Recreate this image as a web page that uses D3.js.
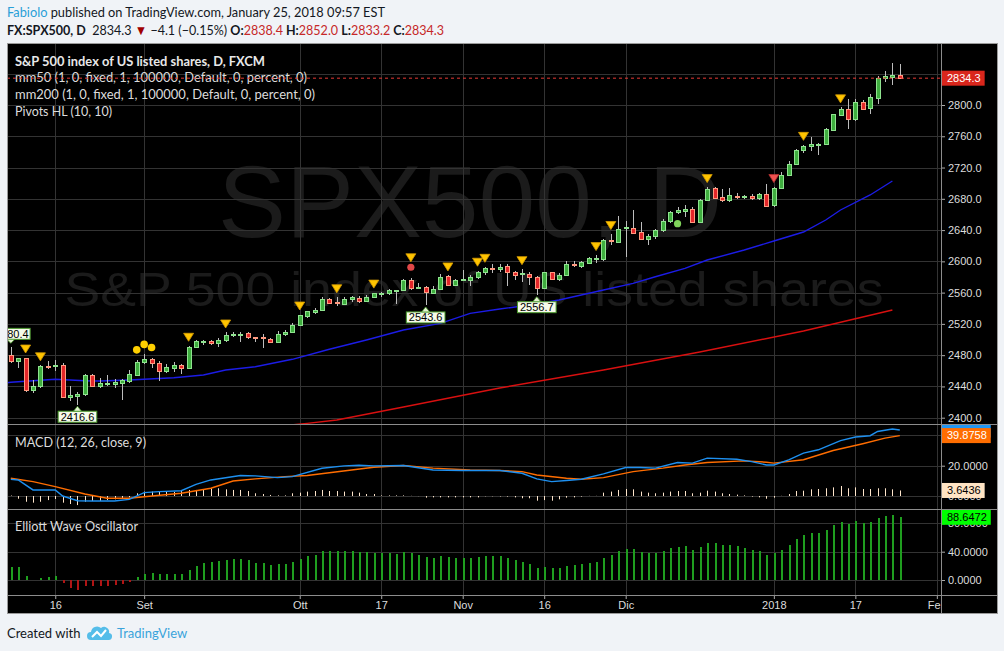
<!DOCTYPE html>
<html><head><meta charset="utf-8">
<script src="https://cdn.jsdelivr.net/npm/d3@7"></script>
<style>html,body{margin:0;padding:0;background:#f0f3f7;}svg{display:block;}</style>
</head><body>
<svg id="c" width="1004" height="651"></svg>
<script>
// ---------------- DATA ----------------
const dates = [
"2017-08-08","2017-08-09","2017-08-10","2017-08-11","2017-08-14","2017-08-15","2017-08-16","2017-08-17","2017-08-18","2017-08-21",
"2017-08-22","2017-08-23","2017-08-24","2017-08-25","2017-08-28","2017-08-29","2017-08-30","2017-08-31","2017-09-01","2017-09-04",
"2017-09-05","2017-09-06","2017-09-07","2017-09-08","2017-09-11","2017-09-12","2017-09-13","2017-09-14","2017-09-15","2017-09-18",
"2017-09-19","2017-09-20","2017-09-21","2017-09-22","2017-09-25","2017-09-26","2017-09-27","2017-09-28","2017-09-29","2017-10-02",
"2017-10-03","2017-10-04","2017-10-05","2017-10-06","2017-10-09","2017-10-10","2017-10-11","2017-10-12","2017-10-13","2017-10-16",
"2017-10-17","2017-10-18","2017-10-19","2017-10-20","2017-10-23","2017-10-24","2017-10-25","2017-10-26","2017-10-27","2017-10-30",
"2017-10-31","2017-11-01","2017-11-02","2017-11-03","2017-11-06","2017-11-07","2017-11-08","2017-11-09","2017-11-10","2017-11-13",
"2017-11-14","2017-11-15","2017-11-16","2017-11-17","2017-11-20","2017-11-21","2017-11-22","2017-11-23","2017-11-24","2017-11-27",
"2017-11-28","2017-11-29","2017-11-30","2017-12-01","2017-12-04","2017-12-05","2017-12-06","2017-12-07","2017-12-08","2017-12-11",
"2017-12-12","2017-12-13","2017-12-14","2017-12-15","2017-12-18","2017-12-19","2017-12-20","2017-12-21","2017-12-22","2017-12-26",
"2017-12-27","2017-12-28","2017-12-29","2018-01-02","2018-01-03","2018-01-04","2018-01-05","2018-01-08","2018-01-09","2018-01-10",
"2018-01-11","2018-01-12","2018-01-15","2018-01-16","2018-01-17","2018-01-18","2018-01-19","2018-01-22","2018-01-23","2018-01-24",
"2018-01-25"];
const open = [
2480,2473,2476,2435,2441,2466,2466,2467.5,2427,2428,
2430,2454,2441,2444,2443,2445,2447,2455,2471,2475,
2470,2460,2464,2467,2463,2490,2497,2498,2496,2499,
2506,2506,2508,2503,2503,2501,2497,2507,2509,2519,
2530,2535,2538,2552,2548,2546,2552,2553,2549,2555,
2558,2559,2562,2563,2576,2566,2567,2560,2565,2581,
2570,2576,2576,2580,2586,2592,2590,2594,2586,2584,
2584,2580,2566,2586,2577,2582,2597,2594,2598,2603,
2603,2627,2625,2643,2643,2637,2628,2632,2640,2651,
2663,2665,2667,2650,2679,2694,2682,2678,2684,2683,
2683,2681,2686,2672,2694,2711,2724,2742,2747,2749,
2750,2768,2787,2795,2782,2804,2796,2809,2834,2836,
2838.4];
const high = [
2490,2477,2477,2448,2467,2473,2474,2470,2440,2433,
2456,2456,2451,2455,2450,2449,2461,2474,2481,2477,
2472,2469,2471,2469,2492,2500,2500,2500,2502,2509,
2509,2510,2510,2503,2507,2502,2511,2512,2521,2532,
2537,2540,2554,2553,2554,2555,2556,2556,2557,2560,
2561,2564,2563,2578,2579,2572,2569,2568,2584,2582,
2578,2589,2582,2588,2593,2597,2596,2597,2588,2590,
2586,2581,2587,2587,2585,2600,2600,2600,2605,2608,
2629,2635,2658,2651,2666,2650,2635,2642,2654,2665,
2670,2672,2670,2680,2695,2695,2693,2694,2687,2685,
2686,2688,2699,2695,2714,2729,2744,2749,2759,2751,
2771,2789,2797,2808,2808,2807,2814,2837,2843,2854,
2852.0];
const low = [
2470,2463,2433,2432,2438,2462,2460,2425,2421,2416.6,
2428,2439,2438,2440,2438,2423,2445,2453,2469,2463,
2447,2457,2458,2456,2462,2489,2493,2493,2490,2497,
2503,2497,2501,2497,2489,2496,2496,2504,2508,2518,
2528,2533,2537,2546,2543,2545,2548,2547,2548,2553,
2555,2557,2545,2562,2563,2564,2543.6,2558,2563,2570,
2569,2575,2568,2578,2582,2585,2587,2568,2576,2574,
2570,2556.7,2565,2576,2575,2581,2593,2592,2597,2598,
2600,2621,2623,2606,2635,2627,2621,2628,2638,2649,
2661,2657,2649,2649,2678,2680,2676,2676,2680,2680,
2678,2679,2670,2670,2693,2710,2723,2738,2741,2736,
2749,2767,2786,2769,2780,2793,2789,2801,2829,2825,
2833.2];
const close = [
2473,2476,2435,2441,2466,2465,2468,2427,2429,2430,
2454,2441,2444,2445,2446,2448,2456,2471,2475,2470,
2460,2465,2467,2463,2491,2498,2498,2496,2499,2506,
2507,2507,2503,2502,2502,2497,2507,2510,2519,2531,
2536,2538,2552,2547,2547,2552,2555,2549,2555,2559,
2559,2563,2563,2576,2566,2567,2561,2565,2580,2570,
2576,2577,2580,2586,2592,2590,2593,2586,2583,2585,
2580,2566,2586,2577,2583,2597,2595,2599,2604,2604,
2627,2626,2642,2644,2636,2628,2632,2640,2652,2663,
2666,2667,2650,2679,2693,2681,2678,2685,2683,2684,
2681,2686,2671,2694,2711,2725,2743,2748,2750,2750,
2769,2788,2795,2782,2804,2795,2810,2835,2837,2839,
2834.3];

// moving averages read at sampled bars (bar index, value)
const mm50Idx = [-1,0,3,6,10,12,16,18,22,26,29,33,38,43,48,53,58,62,66,70,74,80,84,87,91,94,99,103,107,110,112,116,119];
const mm50Val = [2444,2445.3,2447.3,2449.1,2447.3,2446.9,2448.2,2449.1,2451.1,2454.6,2461,2465.2,2474.7,2487.5,2499.4,2512.2,2520.7,2533.5,2539,2544.1,2550.5,2563.3,2571.9,2580.3,2591.1,2601.7,2614.5,2626,2637.5,2652.9,2665.7,2684.9,2702.8];
const mm200Idx = [36,40,44,53,66,80,93,107,119];
const mm200Val = [2389,2392.8,2397,2413.7,2438,2461,2484,2510.9,2537.7];

// MACD (12,26,close,9)
const macdIdx = [0,1,3,6,7,9,11,14,16,18,20,23,25,27,31,33,36,38,42,45,47,49,53,57,61,63,66,69,71,73,75,77,80,83,85,87,90,92,94,98,100,102,103,105,107,109,112,114,116,117,119,120];
const macdVal = [11,10.6,4,4,0,-3.1,-3.3,-3.3,-2.2,2.2,2.9,3.5,7.7,10.6,13.5,13.3,12.1,12.8,18.3,19.9,20.3,19.9,20.1,17.2,16.8,16.8,16.8,15,11.3,9.5,10.2,11.1,14.6,18.8,18.8,18.4,22.1,21.7,25,24.3,22.7,20.5,20.5,23.9,28.3,30.5,36.6,38.9,39.8,42.6,44.2,43.5194];
const signalIdx = [0,3,6,10,13,16,18,23,27,30,33,37,40,46,49,53,57,62,66,69,71,75,77,80,84,88,91,94,99,102,103,107,111,115,118,120];
const signalVal = [11.7,9.5,6.2,1.3,-1.5,-1.5,-0.5,1.8,5.1,9.9,11.3,12.8,13.5,17.2,19,20.1,18.4,17.2,16.8,16.1,13.9,11.7,11.1,12.1,16.1,18.4,20.5,22.1,23.2,22.3,21.7,23.9,30,34.5,38.2,39.8758];
const macdHist = [
0.3,-1.8,-3.8,-4.4,-3.8,-2.7,-2,-4.4,-5.3,-6,
-3.8,-3.3,-3.3,-2.7,-2.2,-1.8,-0.9,1.8,2.9,2.9,
2.9,2.7,2.7,3.3,4,4,4.4,5.1,5.1,4.4,
4,4,3.3,1.8,1.3,0.7,0.4,0.4,1.8,2.2,
2.9,3.3,4,3.3,3.3,2.9,2.9,2.2,1.3,1.3,
0.4,0.4,0.4,0.4,0.1,-0.1,-1.1,-0.9,-0.9,-0.9,
-0.9,-0.9,-0.9,-0.9,-0.2,-0.2,-0.3,-0.4,-0.9,-1.5,
-1.5,-3.1,-2.7,-3.1,-2.2,-1.1,-0.9,-0.4,0.1,0.1,
2.2,2.9,4,4.6,4.4,2.9,2.2,1.8,2.2,2.9,
3.3,3.3,1.8,2.2,3.5,2.9,1.8,1.3,0.9,0.4,
-0.4,-0.9,-1.8,-1.1,0.1,1.3,3.3,3.5,4.4,4.6,
5.1,5.7,6.6,5.1,5.7,4.6,4.6,5.1,5.1,4.4,
3.6436];
// Elliott Wave Oscillator
const ewo = [
18.4,18.4,5.7,0.5,2.8,3.8,5.7,-4.7,-11.3,-14.6,
-8.5,-8.5,-8.5,-8.5,-7.1,-5.7,-3.3,3.8,8,9.4,
8,8,8,8,13.7,19.8,24,25.4,26.9,27.8,
29.2,29.2,27.8,24.5,23.6,21.2,22.1,22.1,25,29.7,
33.9,35.3,40.5,40.5,40.5,40.5,40.5,39.1,39.1,37.7,
37.7,37.7,36.3,39.1,37.7,34.9,32.5,30.6,33.5,32.5,
30.6,30.6,30.6,32.5,33.5,33.5,33.5,31.1,27.8,25,
22.1,16.5,18.4,16.5,16.5,19.8,21.2,22.1,23.6,25,
31.1,34.9,40.5,43.3,43.3,39.1,38.2,38.2,40.5,45.2,
46.6,47.6,41.9,46.6,51.8,51.8,49,49,47.6,44.8,
41.9,40.5,34.9,37.7,41.9,49,57.5,63.1,66,66,
70.2,77.3,81.5,78.7,82.9,80.1,81.5,87.2,90,91.4,
88.6472];

// axis ticks
const tickIdx = [6,18,39,50,61,72,83,103,114,125];
const tickLabels = ["16","Set","Ott","17","Nov","16","Dic","2018","17","Feb"];
const priceTicks = [2400,2440,2480,2520,2560,2600,2640,2680,2720,2760,2800];
const priceGrid = [2400,2440,2480,2520,2560,2600,2640,2680,2720,2760,2800,2840];
const macdTicks = [0,20,40];
const ewoTicks = [0,40,80];

// markers
const pivotHighIdx = [2,4,24,29,39,44,49,54,59,63,64,69,79,81,94,107,112];
const pivotHighRedIdx = [103];
const yellowDotIdx = [17,18,19];
const redDotIdx = [54];
const greenDotIdx = [90];
const labelIdx = [0,9,56,71];
const labelText = ["2480.4","2416.6","2543.6","2556.7"];
const labelSide = ["high","low","low","low"];

const lastPrice = 2834.3;
const lastMacd = 43.5194, lastSignal = 39.8758, lastHist = 3.6436, lastEwo = 88.6472;

const legendLines = ["S&P 500 index of US listed shares, D, FXCM","mm50 (1, 0, fixed, 1, 100000, Default, 0, percent, 0)","mm200 (1, 0, fixed, 1, 100000, Default, 0, percent, 0)","Pivots HL (10, 10)"];

// ---------------- LAYOUT ----------------
const W=1004,H=651;
const L=7,R=941,AR=998,T=43,PB=424,MB=509,EB=595,B=614;
const SANS='"Liberation Sans", Arial, sans-serif';
const HUM='Lato, "Open Sans", sans-serif';

const x = d3.scaleLinear().domain([0,120]).range([10.8,899.8]);
const yP = d3.scaleLinear().domain([2400,2800]).range([417.7,105]);
const yM = d3.scaleLinear().domain([0,20]).range([496,465.7]);
const yE = d3.scaleLinear().domain([0,40]).range([580,551.7]);

const svg = d3.select('#c');
svg.append('rect').attr('width',W).attr('height',H).attr('fill','#f0f3f7');
const defs = svg.append('defs');
function clip(id,x0,y0,w,h){defs.append('clipPath').attr('id',id).append('rect').attr('x',x0).attr('y',y0).attr('width',w).attr('height',h);}
clip('cp',L,T,R-L,PB-T); clip('cm',L,PB,R-L,MB-PB); clip('ce',L,MB,R-L,EB-MB);
clip('cma',R,PB,AR-R,MB-PB); clip('cea',R,MB,AR-R,EB-MB); clip('cpa',R,T,AR-R,PB-T); clip('cx',L,EB,R-L,B-EB);

// header
const h1 = svg.append('text').attr('x',7).attr('y',16.5).attr('font-family',HUM).attr('font-size',13.5).attr('fill','#131722')
  .attr('textLength',378).attr('lengthAdjust','spacingAndGlyphs').style('white-space','pre');
h1.append('tspan').attr('fill','#2a9fd8').text('Fabiolo');
h1.append('tspan').text(' published on TradingView.com, January 25, 2018 09:57 EST');
const h2 = svg.append('text').attr('x',7).attr('y',34.5).attr('font-family',HUM).attr('font-size',13.5).attr('fill','#131722')
  .attr('textLength',437).attr('lengthAdjust','spacingAndGlyphs').style('white-space','pre');
const RED='#c62828';
[["FX:SPX500, D",true,null],["  2834.3 ",false,null],["▼",false,'#a00000'],[" −4.1 (−0.15%) ",false,null],
 ["O:",true,null],["2838.4",false,RED],[" H:",true,null],["2852.0",false,RED],[" L:",true,null],["2833.2",false,RED],[" C:",true,null],["2834.3",false,RED]]
 .forEach(p=>{const t=h2.append('tspan').text(p[0]); if(p[1]) t.attr('font-weight','bold'); if(p[2]) t.attr('fill',p[2]);});

// chart background
svg.append('rect').attr('x',L).attr('y',T).attr('width',AR-L).attr('height',B-T).attr('fill','#000');

// watermark
const wm = svg.append('g').attr('clip-path','url(#cp)').attr('font-family',SANS).attr('fill','#1b1b1b').attr('text-anchor','middle');
wm.append('text').attr('x',470).attr('y',237).attr('font-size',102).attr('textLength',504).attr('lengthAdjust','spacingAndGlyphs').text('SPX500, D');
wm.append('text').attr('x',474).attr('y',306).attr('font-size',48).attr('textLength',819).attr('lengthAdjust','spacingAndGlyphs').text('S&P 500 index of US listed shares');

// grids
const GRID='#333';
const grid = svg.append('g').attr('stroke',GRID).attr('stroke-width',1).attr('shape-rendering','crispEdges');
priceGrid.forEach(v=>grid.append('line').attr('x1',L).attr('x2',R).attr('y1',Math.round(yP(v))+0.5).attr('y2',Math.round(yP(v))+0.5));
macdTicks.forEach(v=>grid.append('line').attr('x1',L).attr('x2',R).attr('y1',Math.round(yM(v))+0.5).attr('y2',Math.round(yM(v))+0.5));
ewoTicks.forEach(v=>grid.append('line').attr('x1',L).attr('x2',R).attr('y1',Math.round(yE(v))+0.5).attr('y2',Math.round(yE(v))+0.5));
tickIdx.forEach(i=>{const xx=Math.round(x(i))+0.5; if(xx<R) grid.append('line').attr('x1',xx).attr('x2',xx).attr('y1',T).attr('y2',EB);});

// legend
const lg = svg.append('g').attr('font-family',HUM).attr('font-size',12.5).attr('fill','#dcdcdc');
const lgLen=[250,292,300,97];
legendLines.forEach((s,k)=>{const t=lg.append('text').attr('x',15).attr('y',65.5+k*16.7).attr('textLength',lgLen[k]).attr('lengthAdjust','spacingAndGlyphs').text(s); if(k===0) t.attr('font-weight','bold').attr('fill','#e8e8e8');});
lg.append('text').attr('x',15).attr('y',447).attr('textLength',131).attr('lengthAdjust','spacingAndGlyphs').text('MACD (12, 26, close, 9)');
lg.append('text').attr('x',15).attr('y',531).attr('textLength',123).attr('lengthAdjust','spacingAndGlyphs').text('Elliott Wave Oscillator');

// price panel
const pp = svg.append('g').attr('clip-path','url(#cp)');
const lineP = d3.line().x(d=>x(d[0])).y(d=>yP(d[1]));
pp.append('path').datum(mm200Idx.map((i,k)=>[i,mm200Val[k]])).attr('d',lineP).attr('fill','none').attr('stroke','#d81010').attr('stroke-width',1.4);
pp.append('path').datum(mm50Idx.map((i,k)=>[i,mm50Val[k]])).attr('d',lineP).attr('fill','none').attr('stroke','#1c1ce6').attr('stroke-width',1.4);

const candles = pp.append('g').attr('shape-rendering','crispEdges');
open.forEach((o,i)=>{
  const c=close[i], up=c>=o, cx=Math.round(x(i));
  candles.append('line').attr('x1',cx+0.5).attr('x2',cx+0.5).attr('y1',yP(high[i])).attr('y2',yP(low[i])).attr('stroke','#bdbdbd');
  const y1=Math.round(yP(Math.max(o,c))), y2=Math.round(yP(Math.min(o,c)));
  candles.append('rect').attr('x',cx-1.5).attr('y',y1+0.5).attr('width',4).attr('height',Math.max(1,y2-y1))
    .attr('fill',up?'#3fae3f':'#e3262a').attr('stroke',up?'#8fe38f':'#ff9a80').attr('stroke-width',1);
});

// markers
const mk = pp.append('g');
function triDown(i,bottom,fill,stroke){const cx=x(i);mk.append('path').attr('d',`M${cx-5},${bottom-8}L${cx+5},${bottom-8}L${cx},${bottom}Z`).attr('fill',fill).attr('stroke',stroke).attr('stroke-width',0.8);}
pivotHighIdx.forEach(i=>{const off=redDotIdx.includes(i)?16:4.5; triDown(i,yP(high[i])-off,'#ffc400','#d49a00');});
pivotHighRedIdx.forEach(i=>triDown(i,yP(high[i])-4.5,'#ef5350','#b83232'));
yellowDotIdx.forEach(i=>mk.append('circle').attr('cx',x(i)).attr('cy',yP(high[i])-10).attr('r',3.8).attr('fill','#ffd000'));
redDotIdx.forEach(i=>mk.append('circle').attr('cx',x(i)).attr('cy',yP(high[i])-10.5).attr('r',3.6).attr('fill','#e04848'));
greenDotIdx.forEach(i=>mk.append('circle').attr('cx',x(i)).attr('cy',yP(low[i])+10).attr('r',3.6).attr('fill','#7fd35a'));

// pivot labels (a label that runs past the left edge keeps only its visible digits)
labelIdx.forEach((i,k)=>{
  const cx=x(i), g=mk.append('g');
  let s=labelText[k];
  const t=g.append('text').attr('font-family',SANS).attr('font-size',11).attr('fill','#000').text(s);
  const w=t.node().getComputedTextLength()+5, h=11;
  let bx=cx-w/2, bw=w;
  if(bx<L){ // trimmed by the pane edge
    const right=bx+w; bx=L; bw=right-L;
    while(s.length>1){t.text(s); if(t.node().getComputedTextLength()<=bw) break; s=s.slice(1);}
    t.text(s).attr('text-anchor','end').attr('x',right-1.5);
  } else { t.attr('text-anchor','middle').attr('x',cx); }
  let tip,top,edge;
  if(labelSide[k]==='low'){tip=yP(low[i])+1.5; top=tip+5; edge=top;}
  else {tip=yP(high[i])-4; top=tip-4-h; edge=top+h;}
  g.insert('rect','text').attr('x',bx).attr('y',top).attr('width',bw).attr('height',h).attr('fill','#f6fbea').attr('stroke','#4a9a2c').attr('stroke-width',1);
  g.insert('path','text').attr('d',`M${cx-4},${edge}L${cx+4},${edge}L${cx},${tip}Z`).attr('fill','#e4f3d2').attr('stroke','#4a9a2c').attr('stroke-width',0.8);
  t.attr('y',top+h/2+4);
});

// last price dashed line
svg.append('line').attr('x1',L).attr('x2',R).attr('y1',yP(lastPrice)).attr('y2',yP(lastPrice)).attr('stroke','#e53935').attr('stroke-dasharray','3,3');

// MACD panel
const mp = svg.append('g').attr('clip-path','url(#cm)');
macdHist.forEach((v,i)=>mp.append('line').attr('x1',Math.round(x(i))+0.5).attr('x2',Math.round(x(i))+0.5).attr('y1',yM(0)).attr('y2',yM(v)).attr('stroke','#ffe6cc').attr('stroke-width',1));
const lineM = d3.line().x(d=>x(d[0])).y(d=>yM(d[1]));
mp.append('path').datum(signalIdx.map((i,k)=>[i,signalVal[k]])).attr('d',lineM).attr('fill','none').attr('stroke','#ff6d00').attr('stroke-width',1.4);
mp.append('path').datum(macdIdx.map((i,k)=>[i,macdVal[k]])).attr('d',lineM).attr('fill','none').attr('stroke','#1e90f0').attr('stroke-width',1.4);

// EWO panel
const ep = svg.append('g').attr('clip-path','url(#ce)').attr('shape-rendering','crispEdges');
ewo.forEach((v,i)=>{const y0=yE(0),y1=yE(v);ep.append('rect').attr('x',Math.round(x(i))-0.5).attr('width',2).attr('y',Math.min(y0,y1)).attr('height',Math.abs(y1-y0)).attr('fill',v>=0?'#1f9e1f':'#b01515');});

// axes
function styleAxis(g){g.select('.domain').remove();g.attr('font-family',SANS).attr('font-size',11);g.selectAll('line').attr('stroke','#aaa');g.selectAll('text').attr('fill','#dddddd');}
svg.append('g').attr('clip-path','url(#cpa)').append('g').attr('transform',`translate(${R},0)`).call(d3.axisRight(yP).tickValues(priceTicks).tickSize(4).tickPadding(3).tickFormat(d=>d.toFixed(1))).call(styleAxis);
svg.append('g').attr('clip-path','url(#cma)').append('g').attr('transform',`translate(${R},0)`).call(d3.axisRight(yM).tickValues(macdTicks).tickSize(4).tickPadding(3).tickFormat(d=>d.toFixed(4))).call(styleAxis);
svg.append('g').attr('clip-path','url(#cea)').append('g').attr('transform',`translate(${R},0)`).call(d3.axisRight(yE).tickValues(ewoTicks).tickSize(4).tickPadding(3).tickFormat(d=>d.toFixed(4))).call(styleAxis);
svg.append('g').attr('clip-path','url(#cx)').append('g').attr('transform',`translate(0,${EB})`).call(d3.axisBottom(x).tickValues(tickIdx).tickSize(4).tickPadding(2).tickFormat((d,k)=>tickLabels[k])).call(styleAxis);

// value boxes on the right axis
function valBox(clipId,yy,txt,fill,col,showText){
  const g=svg.append('g').attr('clip-path',`url(#${clipId})`);
  const t=g.append('text').attr('x',R+6).attr('y',yy).attr('dy','0.35em').attr('font-family',SANS).attr('font-size',11).attr('fill',col).text(txt);
  const w=t.node().getComputedTextLength()+10;
  g.insert('rect','text').attr('x',R).attr('y',yy-7.5).attr('width',w).attr('height',15).attr('fill',fill);
  if(!showText) t.remove();
}
valBox('cpa',yP(lastPrice),lastPrice.toFixed(1),'#d9261c','#fff',true);
valBox('cma',yM(lastMacd),lastMacd.toFixed(4),'#2196f3','#fff',false); // hidden behind the signal box
valBox('cma',yM(lastSignal),lastSignal.toFixed(4),'#ff6d00','#fff',true);
valBox('cma',yM(lastHist),lastHist.toFixed(4),'#ffe4c4','#000',true);
valBox('cea',yE(lastEwo),lastEwo.toFixed(4),'#00ff00','#000',true);

// separators and frame
const sep = svg.append('g').attr('stroke','#8c8c8c').attr('shape-rendering','crispEdges');
[PB,MB,EB].forEach(yy=>sep.append('line').attr('x1',L).attr('x2',AR).attr('y1',yy+0.5).attr('y2',yy+0.5));
sep.append('line').attr('x1',R+0.5).attr('x2',R+0.5).attr('y1',T).attr('y2',B);
sep.append('rect').attr('x',L+0.5).attr('y',T+0.5).attr('width',AR-L-1).attr('height',B-T-1).attr('fill','none').attr('stroke','#9a9a9a');

// footer
svg.append('text').attr('x',7).attr('y',638).attr('font-family',HUM).attr('font-size',13).attr('fill','#131722').text('Created with');
const logo = svg.append('g').attr('transform','translate(88,624)');
logo.append('path').attr('d','M3,16 A4,4 0 0 1 3,8 A6,6 0 0 1 13,4 A5,5 0 0 1 21,9 A3.5,3.5 0 0 1 20,16 Z').attr('fill','#55bde9');
logo.append('path').attr('d','M4,13 L9,8 L13,12 L18,6').attr('fill','none').attr('stroke','#fff').attr('stroke-width',2);
svg.append('text').attr('x',117).attr('y',638).attr('font-family',HUM).attr('font-size',13).attr('fill','#3aa3db').text('TradingView');
</script>
</body></html>
